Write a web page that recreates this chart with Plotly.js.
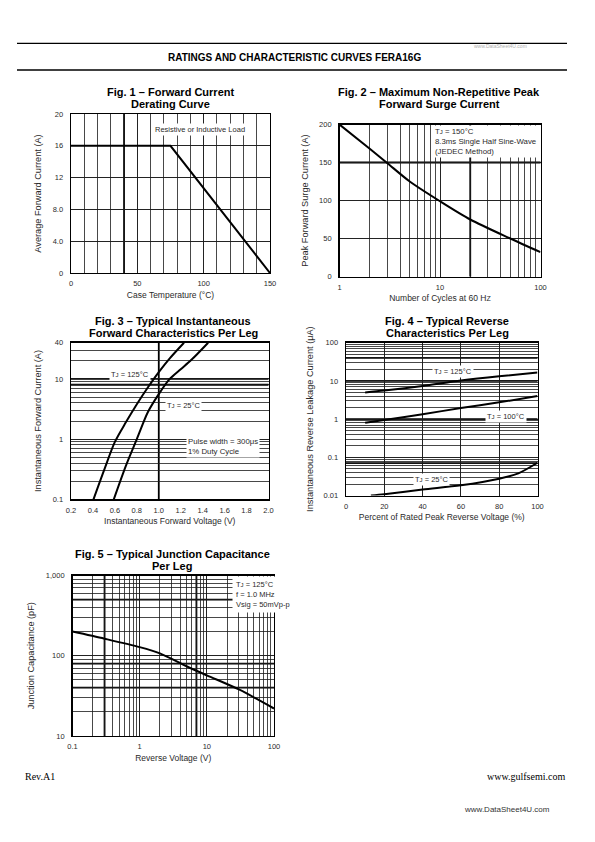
<!DOCTYPE html>
<html><head><meta charset="utf-8">
<script src="https://cdn.plot.ly/plotly-3.0.1.min.js"></script>
<style>html,body{margin:0;padding:0;background:#fff}#chart{width:595px;height:842px}</style>
</head><body><div id="chart"></div>
<script>
// ---------- data ----------
const fig1Temp = [0, 75, 150];
const fig1Current = [16, 16, 0];

const fig2Cycles = [1, 2, 3, 5, 10, 20, 50, 100];
const fig2Surge = [200, 168, 149, 125, 99, 75, 50, 32];

const fig3V125 = [0.405, 0.5, 0.6, 0.7, 0.8, 0.9, 1.0, 1.1, 1.23];
const fig3I125 = [0.1, 0.3, 0.9, 1.9, 3.8, 7.2, 13, 22, 40];
const fig3V25 = [0.59, 0.7, 0.8, 0.9, 1.0, 1.1, 1.2, 1.3, 1.45];
const fig3I25 = [0.1, 0.36, 1.0, 2.8, 5.6, 10, 14.5, 21, 40];

const fig4Pct = [10, 20, 40, 60, 80, 100];
const fig4I125 = [5.0, 5.6, 7.4, 10.2, 13.2, 16.5];
const fig4I100 = [0.8, 0.95, 1.34, 1.95, 2.75, 4.0];
const fig4Pct25 = [13, 20, 40, 60, 80, 90, 100];
const fig4I25 = [0.01, 0.0108, 0.0144, 0.0185, 0.0275, 0.038, 0.072];

const fig5Volt = [0.1, 0.3, 1, 2, 5, 10, 30, 100];
const fig5Cap = [200, 163, 128, 107, 74, 57, 38, 22];

// ---------- tick labels ----------
const fig1XTickVals = [0, 50, 100, 150];
const fig1XTickText = ['0', '50', '100', '150'];
const fig1YTickVals = [0, 4, 8, 12, 16, 20];
const fig1YTickText = ['0', '4.0', '8.0', '12', '16', '20'];
const fig2XTickVals = [1, 10, 100];
const fig2XTickText = ['1', '10', '100'];
const fig2YTickVals = [0, 50, 100, 150, 200];
const fig2YTickText = ['0', '50', '100', '150', '200'];
const fig3XTickVals = [0.2, 0.4, 0.6, 0.8, 1.0, 1.2, 1.4, 1.6, 1.8, 2.0];
const fig3XTickText = ['0.2', '0.4', '0.6', '0.8', '1.0', '1.2', '1.4', '1.6', '1.8', '2.0'];
const fig3YTickVals = [0.1, 1, 10, 40];
const fig3YTickText = ['0.1', '1', '10', '40'];
const fig4XTickVals = [0, 20, 40, 60, 80, 100];
const fig4XTickText = ['0', '20', '40', '60', '80', '100'];
const fig4YTickVals = [0.01, 0.1, 1, 10, 100];
const fig4YTickText = ['0.01', '0.1', '1', '10', '100'];
const fig5XTickVals = [0.1, 1, 10, 100];
const fig5XTickText = ['0.1', '1', '10', '100'];
const fig5YTickVals = [10, 100, 1000];
const fig5YTickText = ['10', '100', '1,000'];

// heavier grid lines printed on the original graph paper
const fig1HeavyX = [40];
const fig2HeavyX = [20];
const fig2HeavyY = [150];
const fig3HeavyX = [1.0];
const fig3HeavyY = [8, 10];
const fig4HeavyY = [0.07, 1, 10, 40];
const fig5HeavyX = [0.3, 7];
const fig5HeavyY = [40, 80, 500];

// ---------- helpers ----------
const W = 595, H = 842;
const F = 'Liberation Sans, Arial, Helvetica, sans-serif';
const FS = 'Liberation Serif, Times New Roman, serif';
const TXT = '#2a2a2a';
const GRID = '#1a1a1a';
const px = x => x / W;
const py = y => 1 - y / H;
const TJ = 'T<span style="font-size:6px">J</span>';

function linGrid(a, b, step) { const g = []; for (let v = a; v <= b + 1e-9; v += step) g.push(+v.toFixed(6)); return g; }
function logGrid(a, b) {
  const g = [];
  for (let e = Math.floor(Math.log10(a)); e <= Math.ceil(Math.log10(b)); e++)
    for (let d = 1; d <= 9; d++) { const v = +(d * Math.pow(10, e)).toPrecision(6); if (v >= a * 0.999 && v <= b * 1.001) g.push(v); }
  return g;
}
function axis(o) {
  const a = {
    domain: o.domain, range: o.range, type: o.type || 'linear', anchor: o.anchor,
    tickmode: 'array', tickvals: o.vals, ticktext: o.texts,
    showgrid: o.showgrid !== false, gridcolor: GRID, gridwidth: 0.8,
    showline: true, mirror: true, linecolor: '#000', linewidth: 1.4,
    zeroline: false, ticks: '', ticklabelstandoff: o.isY ? 5 : 3,
    tickfont: { family: F, size: 7.5, color: TXT },
    title: { text: o.title, standoff: o.standoff, font: { family: F, size: o.isY ? 9.2 : 8.5, color: TXT } },
    fixedrange: true, automargin: false
  };
  if (o.grid) a.minor = { tickmode: 'array', tickvals: o.grid, showgrid: true, gridcolor: GRID, gridwidth: 0.8, ticks: '' };
  return a;
}
function curve(x, y, xa, ya, spline) {
  return { x: x, y: y, xaxis: xa, yaxis: ya, type: 'scatter', mode: 'lines', hoverinfo: 'skip', showlegend: false,
    line: { color: '#000', width: 2, shape: spline ? 'spline' : 'linear', smoothing: 0.8 } };
}
const shapes = [];
function heavyV(vals, xa) { vals.forEach(v => shapes.push({ type: 'line', xref: xa, yref: xa.replace('x', 'y') + ' domain', x0: v, x1: v, y0: 0, y1: 1, layer: 'below', line: { color: '#000', width: 1.8 } })); }
function heavyH(vals, ya) { vals.forEach(v => shapes.push({ type: 'line', yref: ya, xref: ya.replace('y', 'x') + ' domain', y0: v, y1: v, x0: 0, x1: 1, layer: 'below', line: { color: '#000', width: 1.8 } })); }

heavyV(fig1HeavyX, 'x');
heavyV(fig2HeavyX, 'x2'); heavyH(fig2HeavyY, 'y2');
heavyV(fig3HeavyX, 'x3'); heavyH(fig3HeavyY, 'y3');
heavyH(fig4HeavyY, 'y4');
heavyV(fig5HeavyX, 'x5'); heavyH(fig5HeavyY, 'y5');

// header rules
[43.3, 70].forEach(y => shapes.push({ type: 'line', xref: 'paper', yref: 'paper', x0: px(17), x1: px(567), y0: py(y), y1: py(y), line: { color: '#000', width: 1.3 } }));

const annotations = [];
function pAnn(text, x, y, o) {
  annotations.push(Object.assign({ text: text, xref: 'paper', yref: 'paper', x: px(x), y: py(y), showarrow: false,
    xanchor: 'center', yanchor: 'middle', font: { family: F, size: 11, color: '#000' } }, o || {}));
}
function dAnn(text, xa, ya, x, y, o) {
  annotations.push(Object.assign({ text: text, xref: xa, yref: ya, x: x, y: y, showarrow: false,
    xanchor: 'center', yanchor: 'middle', bgcolor: '#fff', borderpad: 1,
    font: { family: F, size: 7.5, color: TXT } }, o || {}));
}

// header / footer
pAnn('<b>RATINGS AND CHARACTERISTIC CURVES FERA16G</b>', 294, 57, { font: { family: F, size: 10, color: '#000' } });
pAnn('www.DataSheet4U.com', 500, 45.5, { font: { family: F, size: 5, color: '#b0b0b0' } });
pAnn('Rev.A1', 22.5, 776, { xanchor: 'left', font: { family: FS, size: 10, color: '#000' } });
pAnn('www.gulfsemi.com', 567, 776, { xanchor: 'right', font: { family: FS, size: 10, color: '#000' } });
pAnn('www.DataSheet4U.com', 552, 809, { xanchor: 'right', font: { family: F, size: 8, color: '#333' } });

// figure titles
const bold = s => '<b>' + s + '</b>';
pAnn(bold('Fig. 1 – Forward Current'), 170, 92); pAnn(bold('Derating Curve'), 170, 104);
pAnn(bold('Fig. 2 – Maximum Non-Repetitive Peak'), 439, 92); pAnn(bold('Forward Surge Current'), 439, 104);
pAnn(bold('Fig. 3 – Typical Instantaneous'), 173, 321); pAnn(bold('Forward Characteristics Per Leg'), 173, 333);
pAnn(bold('Fig. 4 – Typical Reverse'), 447, 321); pAnn(bold('Characteristics Per Leg'), 447, 333);
pAnn(bold('Fig. 5 – Typical Junction Capacitance'), 172, 554); pAnn(bold('Per Leg'), 172, 566);

// in-plot labels (annotation positions on log axes are given as log10)
dAnn('Resistive or Inductive Load', 'x', 'y', 97, 18.1);
dAnn(TJ + ' = 150°C<br>8.3ms Single Half Sine-Wave<br>(JEDEC Method)', 'x2', 'y2', Math.log10(8.6), 199, { xanchor: 'left', yanchor: 'top', align: 'left', font: { family: F, size: 7.8, color: TXT } });
dAnn(TJ + ' = 125°C', 'x3', 'y3', 0.74, Math.log10(12));
dAnn(TJ + ' = 25°C', 'x3', 'y3', 1.225, Math.log10(3.6));
dAnn('Pulse width = 300μs<br>1% Duty Cycle', 'x3', 'y3', 1.25, Math.log10(0.76), { xanchor: 'left', align: 'left', font: { family: F, size: 7.8, color: TXT } });
dAnn(TJ + ' = 125°C', 'x4', 'y4', 56, Math.log10(17.3));
dAnn(TJ + ' = 100°C', 'x4', 'y4', 83.5, Math.log10(1.19));
dAnn(TJ + ' = 25°C', 'x4', 'y4', 44.5, Math.log10(0.026));
dAnn(TJ + ' = 125°C<br>f = 1.0 MHz<br>Vsig = 50mVp-p', 'x5', 'y5', Math.log10(24), 3, { xanchor: 'left', yanchor: 'top', align: 'left', borderpad: 3 });

const data = [
  curve(fig1Temp, fig1Current, 'x', 'y', false),
  curve(fig2Cycles, fig2Surge, 'x2', 'y2', true),
  curve(fig3V125, fig3I125, 'x3', 'y3', true),
  curve(fig3V25, fig3I25, 'x3', 'y3', true),
  curve(fig4Pct, fig4I125, 'x4', 'y4', true),
  curve(fig4Pct, fig4I100, 'x4', 'y4', true),
  curve(fig4Pct25, fig4I25, 'x4', 'y4', true),
  curve(fig5Volt, fig5Cap, 'x5', 'y5', true)
];

const layout = {
  width: W, height: H, margin: { l: 0, r: 0, t: 0, b: 0 },
  paper_bgcolor: '#fff', plot_bgcolor: '#fff', showlegend: false,
  font: { family: F, color: TXT },
  xaxis: axis({ domain: [px(71), px(270)], range: [0, 150], anchor: 'y', grid: linGrid(0, 150, 10), vals: fig1XTickVals, texts: fig1XTickText, title: 'Case Temperature (°C)', standoff: 4 }),
  yaxis: axis({ domain: [py(273), py(114)], range: [0, 20], anchor: 'x', grid: linGrid(0, 20, 4), vals: fig1YTickVals, texts: fig1YTickText, title: 'Average Forward Current (A)', standoff: 9, isY: true }),
  xaxis2: axis({ domain: [px(339.5), px(540.5)], range: [0, 2], type: 'log', anchor: 'y2', grid: logGrid(1, 100), vals: fig2XTickVals, texts: fig2XTickText, title: 'Number of Cycles at 60 H<span style="font-size:7px">Z</span>', standoff: 4 }),
  yaxis2: axis({ domain: [py(276.5), py(124.5)], range: [0, 200], anchor: 'x2', grid: linGrid(0, 200, 50), vals: fig2YTickVals, texts: fig2YTickText, title: 'Peak Forward Surge Current (A)', standoff: 9, isY: true }),
  xaxis3: axis({ domain: [px(71), px(268.5)], range: [0.2, 2.0], anchor: 'y3', showgrid: false, vals: fig3XTickVals, texts: fig3XTickText, title: 'Instantaneous Forward Voltage (V)', standoff: 4 }),
  yaxis3: axis({ domain: [py(499.3), py(342.7)], range: [-1, Math.log10(40)], type: 'log', anchor: 'x3', grid: logGrid(0.1, 40), vals: fig3YTickVals, texts: fig3YTickText, title: 'Instantaneous Forward Current (A)', standoff: 9, isY: true }),
  xaxis4: axis({ domain: [px(346), px(537.5)], range: [0, 100], anchor: 'y4', grid: linGrid(0, 100, 20), vals: fig4XTickVals, texts: fig4XTickText, title: 'Percent of Rated Peak Reverse Voltage (%)', standoff: 4 }),
  yaxis4: axis({ domain: [py(495.5), py(342.7)], range: [-2, 2], type: 'log', anchor: 'x4', grid: logGrid(0.01, 100), vals: fig4YTickVals, texts: fig4YTickText, title: 'Instantaneous Reverse Leakage Current (μA)', standoff: 8, isY: true }),
  xaxis5: axis({ domain: [px(72.5), px(274)], range: [-1, 2], type: 'log', anchor: 'y5', grid: logGrid(0.1, 100), vals: fig5XTickVals, texts: fig5XTickText, title: 'Reverse Voltage (V)', standoff: 4 }),
  yaxis5: axis({ domain: [py(736), py(575.5)], range: [1, 3], type: 'log', anchor: 'x5', grid: logGrid(10, 1000), vals: fig5YTickVals, texts: fig5YTickText, title: 'Junction Capacitance (pF)', standoff: 9, isY: true }),
  shapes: shapes,
  annotations: annotations
};

Plotly.newPlot('chart', data, layout, { displayModeBar: false, staticPlot: true });
</script></body></html>
